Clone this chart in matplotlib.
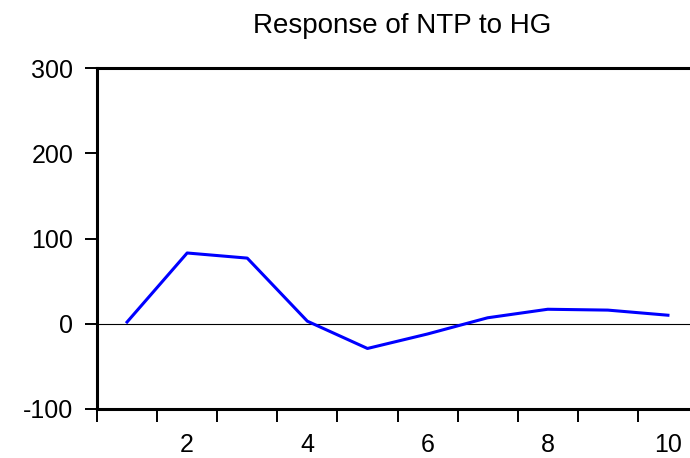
"""Impulse response: NTP to HG"""

import matplotlib
matplotlib.use("Agg")
import matplotlib.pyplot as plt
from matplotlib.ticker import FixedLocator

plt.rcParams["font.family"] = ["Liberation Sans", "DejaVu Sans"]
plt.rcParams["axes.unicode_minus"] = False

periods = [1, 2, 3, 4, 5, 6, 7, 8, 9, 10]
response = [2, 83, 77, 3, -29, -12, 7, 17, 16, 10]
y_ticks = [-100, 0, 100, 200, 300]
x_labels = [2, 4, 6, 8, 10]

fig = plt.figure(figsize=(6.9, 4.58), dpi=100)
ax = fig.add_axes([97 / 690, 49 / 458, 601 / 690, 341 / 458])

ax.axhline(0, color="black", linewidth=0.8, zorder=1)
ax.plot(periods, response, color="#0000ff", linewidth=2.2, zorder=2)

ax.set_xlim(0.5, 10.5)
ax.set_ylim(-100, 300)
ax.set_yticks(y_ticks)
ax.set_xticks(x_labels)
ax.xaxis.set_minor_locator(FixedLocator([p + 0.5 for p in [0] + periods]))

ax.tick_params(axis="y", direction="out", length=9, width=1.4, pad=8, labelsize=18)
ax.tick_params(axis="x", which="major", length=0, pad=17, labelsize=18)
ax.tick_params(axis="x", which="minor", direction="out", length=9, width=1.4)

for side in ["left", "top", "bottom"]:
    ax.spines[side].set_linewidth(2.2)
ax.spines["right"].set_visible(False)

fig.text(402 / 690, 1 - 26 / 458, "Response of NTP to HG", ha="center", va="center", fontsize=20)

fig.savefig("out.png", dpi=100)
